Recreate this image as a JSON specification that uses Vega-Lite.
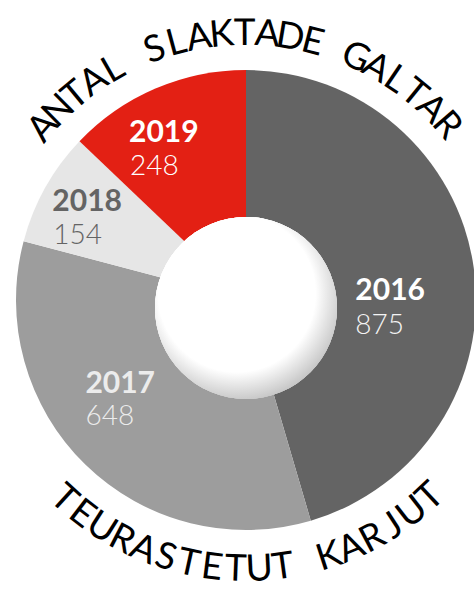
{
  "$schema": "https://vega.github.io/schema/vega-lite/v6.json",
  "width": 474,
  "height": 594,
  "autosize": {"type": "fit", "contains": "padding"},
  "padding": {"left": 18, "top": 6, "right": 0, "bottom": 0},
  "background": "white",
  "config": {"view": {"stroke": null}},
  "datasets": {
    "pie": [
      {"year": "2016", "value": 875},
      {"year": "2017", "value": 648},
      {"year": "2018", "value": 154},
      {"year": "2019", "value": 248}
    ],
    "top": [
      {"i": 0, "ch": "A"}, {"i": 1, "ch": "N"}, {"i": 2, "ch": "T"}, {"i": 3, "ch": "A"}, {"i": 4, "ch": "L"},
      {"i": 5, "ch": " "}, {"i": 6, "ch": "S"}, {"i": 7, "ch": "L"}, {"i": 8, "ch": "A"}, {"i": 9, "ch": "K"},
      {"i": 10, "ch": "T"}, {"i": 11, "ch": "A"}, {"i": 12, "ch": "D"}, {"i": 13, "ch": "E"}, {"i": 14, "ch": " "},
      {"i": 15, "ch": "G"}, {"i": 16, "ch": "A"}, {"i": 17, "ch": "L"}, {"i": 18, "ch": "T"}, {"i": 19, "ch": "A"},
      {"i": 20, "ch": "R"}
    ],
    "bottom": [
      {"i": 0, "ch": "T"}, {"i": 1, "ch": "E"}, {"i": 2, "ch": "U"}, {"i": 3, "ch": "R"}, {"i": 4, "ch": "A"},
      {"i": 5, "ch": "S"}, {"i": 6, "ch": "T"}, {"i": 7, "ch": "E"}, {"i": 8, "ch": "T"}, {"i": 9, "ch": "U"},
      {"i": 10, "ch": "T"}, {"i": 11, "ch": " "}, {"i": 12, "ch": "K"}, {"i": 13, "ch": "A"}, {"i": 14, "ch": "R"},
      {"i": 15, "ch": "J"}, {"i": 16, "ch": "U"}, {"i": 17, "ch": "T"}
    ]
  },
  "data": {"name": "pie"},
  "layer": [
    {
      "mark": {"type": "arc", "radius": 230},
      "encoding": {
        "theta": {"field": "value", "type": "quantitative", "stack": true},
        "order": {"field": "year", "sort": "ascending"},
        "color": {
          "field": "year", "type": "nominal",
          "scale": {"domain": ["2016", "2017", "2018", "2019"], "range": ["#646464", "#9d9d9d", "#e6e6e6", "#e32014"]},
          "legend": null
        }
      }
    },
    {
      "mark": {
        "type": "arc", "radius": 91, "theta": 0, "theta2": 6.2832, "yOffset": 8,
        "color": {
          "gradient": "radial", "x1": 0.45, "y1": 0.42, "r1": 0, "x2": 0.45, "y2": 0.42, "r2": 0.6,
          "stops": [{"offset": 0, "color": "#ffffff"}, {"offset": 0.72, "color": "#ffffff"}, {"offset": 1, "color": "#c4c4c4"}]
        }
      },
      "encoding": {}
    },
    {
      "mark": {"type": "text", "radius": 160, "align": "left", "baseline": "alphabetic", "dx": -49, "dy": 23, "font": "Lato", "fontWeight": "bold", "fontSize": 30, "color": "#ffffff"},
      "encoding": {
        "theta": {"field": "value", "type": "quantitative", "stack": true},
        "order": {"field": "year", "sort": "ascending"},
        "detail": {"field": "year"},
        "text": {"condition": {"test": "datum.year === '2016'", "field": "year"}, "value": ""}
      }
    },
    {
      "mark": {"type": "text", "radius": 160, "align": "left", "baseline": "alphabetic", "dx": -49, "dy": 57, "font": "Lato", "fontWeight": 300, "fontSize": 28, "color": "#f4f4f4"},
      "encoding": {
        "theta": {"field": "value", "type": "quantitative", "stack": true},
        "order": {"field": "year", "sort": "ascending"},
        "detail": {"field": "year"},
        "text": {"condition": {"test": "datum.year === '2016'", "field": "value", "type": "quantitative"}, "value": ""}
      }
    },
    {
      "mark": {"type": "text", "radius": 160, "align": "left", "baseline": "alphabetic", "dx": -49, "dy": -22, "font": "Lato", "fontWeight": "bold", "fontSize": 30, "color": "#ececec"},
      "encoding": {
        "theta": {"field": "value", "type": "quantitative", "stack": true},
        "order": {"field": "year", "sort": "ascending"},
        "detail": {"field": "year"},
        "text": {"condition": {"test": "datum.year === '2017'", "field": "year"}, "value": ""}
      }
    },
    {
      "mark": {"type": "text", "radius": 160, "align": "left", "baseline": "alphabetic", "dx": -49, "dy": 10, "font": "Lato", "fontWeight": 300, "fontSize": 28, "color": "#ececec"},
      "encoding": {
        "theta": {"field": "value", "type": "quantitative", "stack": true},
        "order": {"field": "year", "sort": "ascending"},
        "detail": {"field": "year"},
        "text": {"condition": {"test": "datum.year === '2017'", "field": "value", "type": "quantitative"}, "value": ""}
      }
    },
    {
      "mark": {"type": "text", "radius": 160, "align": "left", "baseline": "alphabetic", "dx": -54, "dy": -11, "font": "Lato", "fontWeight": "bold", "fontSize": 30},
      "encoding": {
        "theta": {"field": "value", "type": "quantitative", "stack": true},
        "order": {"field": "year", "sort": "ascending"},
        "detail": {"field": "year"},
        "color": {"condition": {"test": "datum.year === '2018'", "value": "#646464"}, "value": "#ffffff"},
        "text": {"condition": {"test": "datum.year === '2018' || datum.year === '2019'", "field": "year"}, "value": ""}
      }
    },
    {
      "mark": {"type": "text", "radius": 160, "align": "left", "baseline": "alphabetic", "dx": -53, "dy": 22, "font": "Lato", "fontWeight": 300, "fontSize": 28},
      "encoding": {
        "theta": {"field": "value", "type": "quantitative", "stack": true},
        "order": {"field": "year", "sort": "ascending"},
        "detail": {"field": "year"},
        "color": {"condition": {"test": "datum.year === '2018'", "value": "#646464"}, "value": "#ffffff"},
        "text": {"condition": {"test": "datum.year === '2018' || datum.year === '2019'", "field": "value", "type": "quantitative"}, "value": ""}
      }
    },
    {
      "data": {"name": "top"},
      "mark": {"type": "text", "radius": 266, "align": "center", "baseline": "middle", "font": "Lato", "fontSize": 37, "color": "#000000"},
      "encoding": {
        "theta": {"field": "i", "type": "quantitative", "scale": {"domain": [0, 20], "range": [-0.866, 0.855]}},
        "angle": {"field": "i", "type": "quantitative", "scale": {"domain": [0, 20], "range": [-49.6, 49.0]}},
        "text": {"field": "ch"}
      }
    },
    {
      "data": {"name": "bottom"},
      "mark": {"type": "text", "radius": 270, "align": "center", "baseline": "middle", "font": "Lato", "fontSize": 37, "color": "#000000"},
      "encoding": {
        "theta": {"field": "i", "type": "quantitative", "scale": {"domain": [0, 17], "range": [3.883, 2.389]}},
        "angle": {"field": "i", "type": "quantitative", "scale": {"domain": [0, 17], "range": [42.5, -43.1]}},
        "text": {"field": "ch"}
      }
    }
  ],
  "resolve": {"scale": {"theta": "independent", "angle": "independent"}}
}
